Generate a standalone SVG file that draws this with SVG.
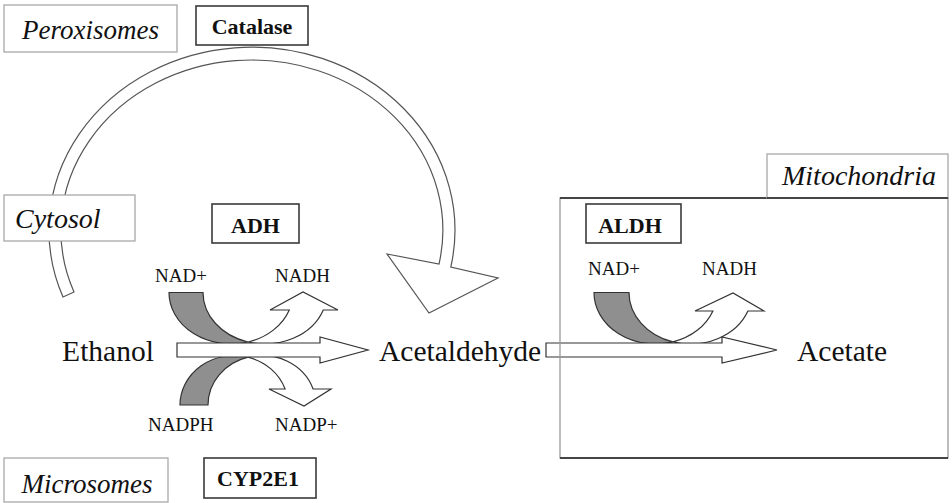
<svg xmlns="http://www.w3.org/2000/svg" width="952" height="503" viewBox="0 0 952 503">
  <style>
    .bg { fill: #ffffff; }
    .label { fill: #ffffff; stroke: #a8a8a8; stroke-width: 1.3; }
    .enzyme { fill: #ffffff; stroke: #3a3a3a; stroke-width: 1.6; }
    .ital { font-family: "Liberation Serif", "Times New Roman", serif; font-style: italic; fill: #111; }
    .bold { font-family: "Liberation Serif", "Times New Roman", serif; font-weight: bold; fill: #111; }
    .reg { font-family: "Liberation Serif", "Times New Roman", serif; fill: #111; }
    .band { fill: #ffffff; stroke: #555; stroke-width: 1.2; stroke-linejoin: miter; }
    .cofactor { fill: #8f8f8f; stroke: #333; stroke-width: 1.2; }
    .flow { fill: #ffffff; stroke: #333; stroke-width: 1.2; }
  </style>

  <rect class="bg" x="0" y="0" width="952" height="503"/>

  <g id="connectors">
    <!-- catalase route: wide curved arrow over the top -->
    <path class="band" d="M63,297 A203 183 0 1 1 450.8,267 L498,278 L429,313 L387,254 L439,264 A191 170 0 1 0 74,292 Z"/>

    <!-- ADH: NAD+ to NADH -->
    <path class="cofactor" d="M169,292.5 A62 51.5 0 0 0 248,342 A62 51.5 0 0 1 203,292.5 Z"/>
    <path class="flow" d="M248,342 A62 51.5 0 0 0 323.3,310 L338,310 L303,292 L270,310 L289.3,310 A62 51.5 0 0 1 248,342 Z"/>

    <!-- CYP2E1: NADPH to NADP+ -->
    <path class="cofactor" d="M180,405 A54 49.5 0 0 1 248,357.2 A54 49.5 0 0 0 208,405 Z"/>
    <path class="flow" d="M248,357.2 A54 49.5 0 0 1 313.1,389 L331,389 L304,406 L269,389 L285.1,389 A54 49.5 0 0 0 248,357.2 Z"/>

    <!-- ethanol to acetaldehyde -->
    <path class="flow" d="M177,343 H320 V337 L368,350 L320,363 V357 H177 Z"/>

    <!-- ALDH: NAD+ to NADH -->
    <path class="cofactor" d="M594,292.5 A61.5 51.5 0 0 0 673,341.9 A61.5 51.5 0 0 1 629,292.5 Z"/>
    <path class="flow" d="M673,341.9 A61.5 51.5 0 0 0 747.9,311 L764,311 L733,293 L695,311 L712.9,311 A61.5 51.5 0 0 1 673,341.9 Z"/>

    <!-- acetaldehyde to acetate -->
    <path class="flow" d="M546,343 H722 V337 L777,350 L722,363 V357 H546 Z"/>
  </g>

  <!-- mitochondrion compartment -->
  <g id="mitochondria">
    <rect x="560" y="198" width="388" height="260" fill="none" stroke="#9a9a9a" stroke-width="1.3"/>
    <line x1="560" y1="198" x2="948" y2="198" stroke="#444" stroke-width="2"/>
    <line x1="560" y1="458" x2="948" y2="458" stroke="#444" stroke-width="2"/>
    <rect class="label" x="767" y="154" width="181" height="44"/>
    <line x1="767" y1="198" x2="948" y2="198" stroke="#444" stroke-width="2"/>
    <text class="ital" x="782" y="185" font-size="28">Mitochondria</text>
  </g>

  <!-- compartment labels -->
  <g id="peroxisomes">
    <rect class="label" x="4" y="5" width="173" height="47"/>
    <text class="ital" x="90.5" y="39" font-size="27" text-anchor="middle">Peroxisomes</text>
  </g>
  <g id="cytosol">
    <rect class="label" x="4" y="195" width="131" height="46"/>
    <text class="ital" x="15" y="228" font-size="28">Cytosol</text>
  </g>
  <g id="microsomes">
    <rect class="label" x="4" y="458" width="164" height="44"/>
    <text class="ital" x="87" y="493" font-size="27" text-anchor="middle">Microsomes</text>
  </g>

  <!-- enzymes -->
  <g id="catalase">
    <rect class="enzyme" x="196" y="6" width="112" height="39"/>
    <text class="bold" x="252" y="34" font-size="22" text-anchor="middle">Catalase</text>
  </g>
  <g id="adh">
    <rect class="enzyme" x="212" y="204" width="87" height="39"/>
    <text class="bold" x="255.5" y="233" font-size="22" text-anchor="middle">ADH</text>
  </g>
  <g id="aldh">
    <rect class="enzyme" x="586" y="204" width="95" height="39"/>
    <text class="bold" x="630" y="233" font-size="22" text-anchor="middle">ALDH</text>
  </g>
  <g id="cyp2e1">
    <rect class="enzyme" x="204" y="458" width="112" height="40"/>
    <text class="bold" x="258" y="486" font-size="22" text-anchor="middle">CYP2E1</text>
  </g>

  <!-- metabolites -->
  <g id="ethanol">
    <text class="reg" x="108" y="361" font-size="29.5" text-anchor="middle">Ethanol</text>
  </g>
  <g id="acetaldehyde">
    <text class="reg" x="379" y="361" font-size="29.5">Acetaldehyde</text>
  </g>
  <g id="acetate">
    <text class="reg" x="797" y="361" font-size="29.5">Acetate</text>
  </g>

  <!-- cofactors -->
  <g id="cofactors">
    <text class="reg" x="155" y="282" font-size="19">NAD+</text>
    <text class="reg" x="275" y="282" font-size="19">NADH</text>
    <text class="reg" x="148" y="431" font-size="19">NADPH</text>
    <text class="reg" x="275" y="431" font-size="19">NADP+</text>
    <text class="reg" x="588" y="275" font-size="19">NAD+</text>
    <text class="reg" x="702" y="275" font-size="19">NADH</text>
  </g>
</svg>
